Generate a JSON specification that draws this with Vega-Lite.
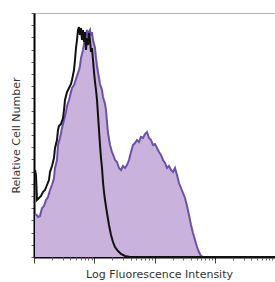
{
  "$schema": "https://vega.github.io/schema/vega-lite/v6.json",
  "width": 242,
  "height": 244,
  "autosize": {"type": "none"},
  "padding": {"left": 34, "top": 13, "right": 0, "bottom": 25},
  "background": "white",
  "config": {
    "view": {"stroke": "#b8b8b8", "strokeWidth": 1},
    "axis": {"titleFont": "DejaVu Sans", "titleFontSize": 11, "titleFontWeight": "normal", "titleColor": "#333333"}
  },
  "datasets": {
    "stained": [
      {"ch":1,"count":43},{"ch":2.7,"count":42},{"ch":4,"count":40},{"ch":6,"count":41},{"ch":8,"count":49},{"ch":10,"count":51},{"ch":12,"count":57},{"ch":14,"count":60},{"ch":16,"count":67},{"ch":18,"count":72},{"ch":20,"count":79},{"ch":21,"count":89},{"ch":23,"count":97},{"ch":24,"count":112},{"ch":26,"count":119},{"ch":28,"count":129},{"ch":30,"count":137},{"ch":32,"count":145},{"ch":33,"count":151},{"ch":35,"count":157},{"ch":37,"count":165},{"ch":38,"count":169},{"ch":40,"count":172},{"ch":41,"count":175},{"ch":43,"count":181},{"ch":45,"count":187},{"ch":46,"count":191},{"ch":47,"count":199},{"ch":49,"count":207},{"ch":50,"count":213},{"ch":51,"count":217},{"ch":52,"count":223},{"ch":53,"count":227},{"ch":54,"count":222},{"ch":55,"count":225},{"ch":56,"count":227},{"ch":57,"count":221},{"ch":58,"count":225},{"ch":59,"count":217},{"ch":61,"count":209},{"ch":62,"count":199},{"ch":63,"count":191},{"ch":65,"count":179},{"ch":66,"count":173},{"ch":68,"count":167},{"ch":69,"count":160},{"ch":71,"count":153},{"ch":72,"count":147},{"ch":73,"count":135},{"ch":74,"count":124},{"ch":76,"count":112},{"ch":78,"count":105},{"ch":80,"count":100},{"ch":81,"count":97},{"ch":83,"count":95},{"ch":85,"count":89},{"ch":87,"count":87},{"ch":89,"count":91},{"ch":91,"count":89},{"ch":93,"count":92},{"ch":95,"count":97},{"ch":97,"count":105},{"ch":99,"count":112},{"ch":101,"count":114},{"ch":103,"count":117},{"ch":105,"count":115},{"ch":107,"count":120},{"ch":109,"count":119},{"ch":111,"count":123},{"ch":113,"count":125},{"ch":115,"count":119},{"ch":117,"count":117},{"ch":119,"count":112},{"ch":121,"count":113},{"ch":123,"count":109},{"ch":125,"count":105},{"ch":127,"count":102},{"ch":129,"count":97},{"ch":131,"count":94},{"ch":133,"count":89},{"ch":135,"count":91},{"ch":137,"count":87},{"ch":139,"count":85},{"ch":141,"count":89},{"ch":143,"count":82},{"ch":145,"count":74},{"ch":147,"count":69},{"ch":149,"count":64},{"ch":151,"count":59},{"ch":153,"count":51},{"ch":155,"count":42},{"ch":157,"count":32},{"ch":159,"count":24},{"ch":161,"count":17},{"ch":163,"count":10},{"ch":165,"count":5},{"ch":167,"count":1},{"ch":169,"count":0}
    ],
    "control": [
      {"ch":1,"count":87},{"ch":2,"count":82},{"ch":3,"count":57},{"ch":5,"count":59},{"ch":7,"count":61},{"ch":9,"count":65},{"ch":11,"count":67},{"ch":13,"count":72},{"ch":15,"count":77},{"ch":16,"count":85},{"ch":18,"count":91},{"ch":20,"count":99},{"ch":21,"count":109},{"ch":23,"count":117},{"ch":24,"count":127},{"ch":25,"count":131},{"ch":27,"count":133},{"ch":29,"count":139},{"ch":30,"count":147},{"ch":31,"count":157},{"ch":33,"count":165},{"ch":35,"count":169},{"ch":37,"count":173},{"ch":38,"count":177},{"ch":40,"count":187},{"ch":41,"count":197},{"ch":42,"count":209},{"ch":43,"count":217},{"ch":44,"count":227},{"ch":45,"count":230},{"ch":46,"count":222},{"ch":47,"count":229},{"ch":48,"count":217},{"ch":49,"count":227},{"ch":50,"count":215},{"ch":51,"count":225},{"ch":52,"count":207},{"ch":53,"count":219},{"ch":54,"count":212},{"ch":55,"count":224},{"ch":56,"count":217},{"ch":57,"count":205},{"ch":58,"count":209},{"ch":59,"count":197},{"ch":60,"count":185},{"ch":61,"count":175},{"ch":62,"count":167},{"ch":63,"count":157},{"ch":64,"count":142},{"ch":65,"count":127},{"ch":66,"count":112},{"ch":67,"count":99},{"ch":68,"count":89},{"ch":69,"count":75},{"ch":70,"count":65},{"ch":71,"count":57},{"ch":73,"count":44},{"ch":75,"count":32},{"ch":77,"count":22},{"ch":79,"count":15},{"ch":81,"count":10},{"ch":84,"count":6},{"ch":87,"count":3},{"ch":91,"count":1},{"ch":96,"count":0},{"ch":242,"count":0}
    ]
  },
  "layer": [
    {
      "data": {"name": "stained"},
      "mark": {"type": "area", "color": "#c9b3dc", "opacity": 1, "line": {"color": "#6a52a8", "strokeWidth": 2}},
      "encoding": {
        "x": {"field": "ch", "type": "quantitative", "scale": {"domain": [0, 242], "nice": false, "zero": false},
          "axis": {"orient": "bottom", "title": "Log Fluorescence Intensity", "titleX": 125, "labels": false, "grid": false, "values": [0, 60.25, 120.5, 180.75, 241], "tickSize": 6, "tickColor": "#444", "tickWidth": 1, "domainColor": "#000", "domainWidth": 2, "titlePadding": 5}},
        "y": {"field": "count", "type": "quantitative", "scale": {"domain": [0, 244], "nice": false},
          "axis": {"title": "Relative Cell Number", "labels": false, "grid": false, "values": [0,12.2,24.4,36.6,48.8,61,73.2,85.4,97.6,109.8,122,134.2,146.4,158.6,170.8,183,195.2,207.4,219.6,231.8,244], "tickSize": 3, "tickColor": "#666", "tickWidth": 1, "domainColor": "#000", "domainWidth": 2, "titlePadding": 9}}
      }
    },
    {
      "data": {"name": "control"},
      "mark": {"type": "line", "color": "#111111", "strokeWidth": 2},
      "encoding": {
        "x": {"field": "ch", "type": "quantitative", "scale": {"domain": [0, 242], "nice": false, "zero": false},
          "axis": {"orient": "bottom", "title": null, "labels": false, "grid": false, "domain": false, "values": [18.1,28.7,36.3,42.1,46.9,50.9,54.4,57.5,78.4,89.0,96.6,102.4,107.1,111.2,114.7,117.7,138.6,149.2,156.8,162.6,167.4,171.4,174.9,178.0,198.9,209.5,217.1,222.9,227.6,231.7,235.2,238.2], "tickSize": 3, "tickColor": "#666", "tickWidth": 1}},
        "y": {"field": "count", "type": "quantitative", "scale": {"domain": [0, 244], "nice": false},
          "axis": {"title": "Relative Cell Number", "labels": false, "grid": false, "values": [0,12.2,24.4,36.6,48.8,61,73.2,85.4,97.6,109.8,122,134.2,146.4,158.6,170.8,183,195.2,207.4,219.6,231.8,244], "tickSize": 3, "tickColor": "#666", "tickWidth": 1, "domainColor": "#000", "domainWidth": 2, "titlePadding": 9}}
      }
    }
  ],
  "resolve": {"axis": {"x": "independent"}}
}
